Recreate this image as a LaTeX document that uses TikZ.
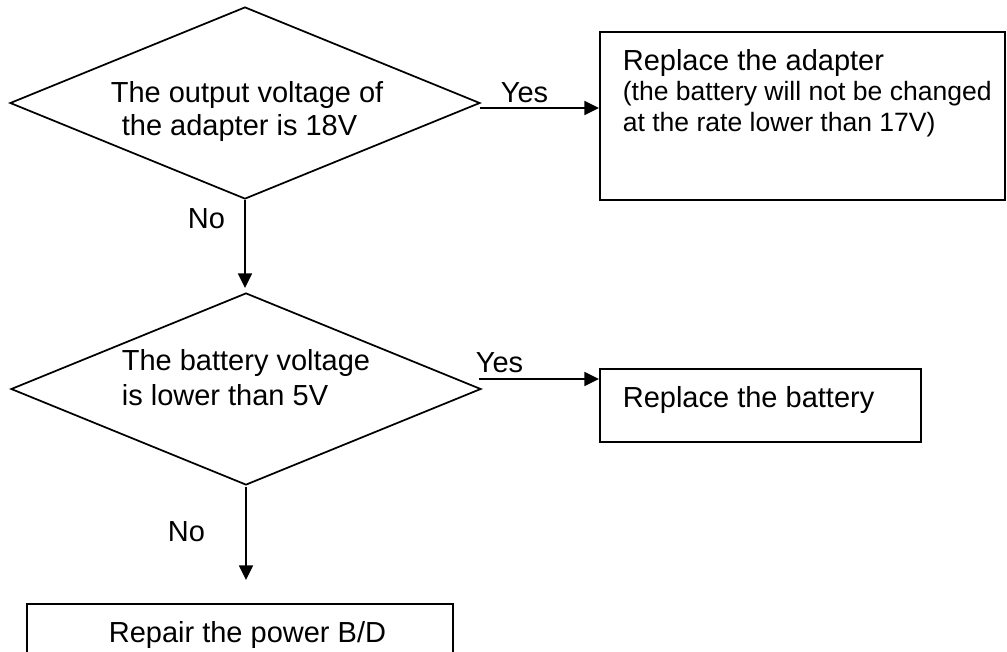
\documentclass[tikz,border=0pt]{standalone}
\usepackage{fontspec}
\setmainfont{Liberation Sans}
\usetikzlibrary{arrows.meta,shapes.geometric}
\begin{document}
\begin{tikzpicture}[x=0.75pt,y=-0.75pt,
  line width=1.3pt,
  dia/.style={draw, diamond, shape aspect=2.45, inner sep=0pt, minimum width=352.5pt, minimum height=144pt},
  box/.style={draw, rectangle, inner sep=0pt, line width=1.5pt},
  txt/.style={anchor=base west, inner sep=0pt, font=\fontsize{21.75pt}{26pt}\selectfont},
  small/.style={anchor=base west, inner sep=0pt, font=\fontsize{19.9pt}{24pt}\selectfont},
  arr/.style={-{Triangle[length=11pt,width=10.5pt]}, line width=1.3pt}]
\useasboundingbox (0,0) rectangle (1007,651);
\clip (0,0) rectangle (1007,651);

% shapes
\node[dia] (d1) at (245,103) {};
\node[dia] (d2) at (246,389) {};
\node[box, minimum width=303.75pt, minimum height=126pt] (b1) at (802.5,116) {};
\node[box, minimum width=240.75pt, minimum height=54.75pt] (b2) at (760.5,405.5) {};
\node[box, minimum width=319.5pt, minimum height=57pt] (b3) at (240,642) {};

% texts
\node[txt] (t1a) at (110,102) {The output voltage of};
\node[txt] (t1b) at (121,135) {the adapter is 18V};
\node[txt] (t2a) at (121,370) {The battery voltage};
\node[txt] (t2b) at (121,405) {is lower than 5V};
\node[txt] (t3a) at (622,70) {Replace the adapter};
\node[small] (t3b) at (622,100) {(the battery will not be changed};
\node[small] (t3c) at (622,131) {at the rate lower than 17V)};
\node[txt] (t4) at (622,407) {Replace the battery};
\node[txt] (t5) at (108,642) {Repair the power B/D};

% labels
\node[txt] (yes1) at (500,102) {Yes};
\node[txt] (yes2) at (475,372) {Yes};
\node[txt] (no1) at (187,228) {No};
\node[txt] (no2) at (167,541) {No};

% connectors
\coordinate (y1s) at (480,108);
\coordinate (y2s) at (479,379);
\coordinate (n1e) at (245,288);
\coordinate (n2s) at (246,487);
\coordinate (n2e) at (246,580);
\draw[arr] (y1s) -- (y1s -| b1.west);
\draw[arr] (y2s) -- (y2s -| b2.west);
\draw[arr] (d1.south) -- (n1e);
\draw[arr] (n2s) -- (n2e);
\end{tikzpicture}
\end{document}
